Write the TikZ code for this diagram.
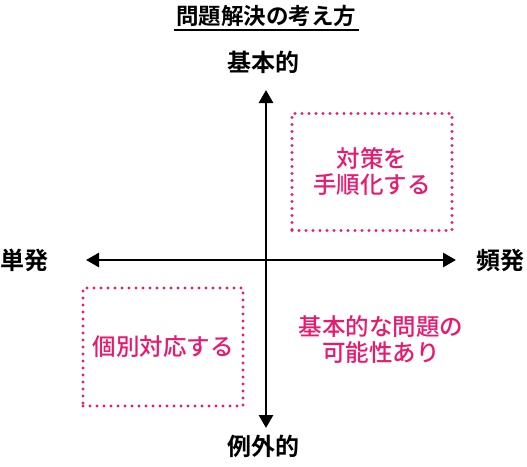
\documentclass[tikz,border=0pt]{standalone}
\usepackage{fontspec}
\newfontfamily\jpb{Noto Sans CJK JP Bold}
\newfontfamily\jpm{Noto Sans CJK JP Medium}
\usetikzlibrary{arrows.meta}
\definecolor{mag}{HTML}{E8196E}
\tikzset{
  lbl/.style={font=\jpb\fontsize{24}{28}\selectfont, inner sep=0pt},
  ptxt/.style={font=\jpm\fontsize{23.5}{26}\selectfont, text=mag, align=center, inner sep=0pt},
  dotbox/.style={draw=mag, line width=3.4pt, dash pattern=on 0pt off 7pt, line cap=round},
  axis/.style={line width=2.8pt, -{Triangle[length=13pt,width=14pt]}}
}
\begin{document}
\begin{tikzpicture}[x=1pt,y=-1pt]
\useasboundingbox (0,0) rectangle (527,466);
\node[lbl, font=\jpb\fontsize{22.5}{26}\selectfont] (title) at (266,16) {問題解決の考え方};
\draw[line width=1.4pt] (174,30) -- (359,30);
\node[lbl] (top) at (263,62) {基本的};
\node[lbl] (bottom) at (263,446) {例外的};
\node[lbl, anchor=west] (left) at (0.5,260) {単発};
\node[lbl, anchor=east] (right) at (525,260) {頻発};
\coordinate (t) at (266,90);
\coordinate (b) at (266,428);
\coordinate (l) at (86,260);
\coordinate (r) at (456,260);
\draw[axis] (266,405) -- (t);
\draw[axis] (266,115) -- (b);
\draw[axis] (430,260) -- (l);
\draw[axis] (110,260) -- (r);
\node[dotbox, minimum width=160pt, minimum height=117pt] (box1) at (372,172) {};
\node[ptxt] at (box1) {対策を\\手順化する};
\node[dotbox, minimum width=160pt, minimum height=118pt] (box2) at (163,347) {};
\node[ptxt] at (box2) {個別対応する};
\node[ptxt] (t3) at (381,340) {基本的な問題の\\可能性あり};
\end{tikzpicture}
\end{document}
